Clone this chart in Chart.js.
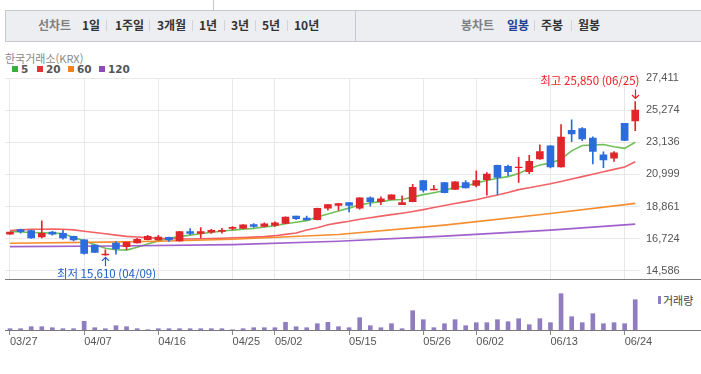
<!DOCTYPE html>
<html lang="ko">
<head>
<meta charset="utf-8">
<script src="https://cdn.jsdelivr.net/npm/chart.js@4.4.1/dist/chart.umd.min.js"></script>
<style>
  body { margin: 0; background: #fff; font-family: "Noto Sans CJK KR", "Noto Sans", sans-serif; }
  #wrap { position: relative; width: 701px; height: 374px; overflow: hidden; }
  .abs { position: absolute; white-space: nowrap; }
  #tabs { position: absolute; left: 5px; top: 10px; width: 696px; height: 30px; background: #eceef2;
          border-top: 1px solid #c5c8ce; border-bottom: 1px solid #c5c8ce; border-left: 1px solid #c5c8ce; }
  .tab { position: absolute; top: 17px; font-size: 12px; line-height: 16px; font-weight: bold; color: #333; }
  .tab.lbl { color: #808080; }
  .tab.on { color: #1d3f95; }
  .sep { position: absolute; top: 20px; width: 1px; height: 11px; background: #d2d4d9; }
  .sq { position: absolute; top: 66px; width: 6px; height: 6px; }
  .lg { position: absolute; top: 62px; font: bold 10.5px/14px "DejaVu Sans", sans-serif; color: #555; }
  canvas { position: absolute; left: 0; }
</style>
</head>
<body>
<div id="wrap">
  <div class="abs" style="left:213px;top:0;width:1px;height:10px;background:#c8c8c8"></div>
  <div id="tabs"></div>
  <div class="abs" style="left:355px;top:10px;width:1px;height:31px;background:#c5c8ce"></div>

  <span class="tab lbl" style="left:38px">선차트</span>
  <span class="tab" style="left:82px">1일</span><span class="sep" style="left:106px"></span>
  <span class="tab" style="left:115px">1주일</span><span class="sep" style="left:149px"></span>
  <span class="tab" style="left:157px">3개월</span><span class="sep" style="left:192px"></span>
  <span class="tab" style="left:199px">1년</span><span class="sep" style="left:224px"></span>
  <span class="tab" style="left:231px">3년</span><span class="sep" style="left:255px"></span>
  <span class="tab" style="left:262px">5년</span><span class="sep" style="left:287px"></span>
  <span class="tab" style="left:294px">10년</span>

  <span class="tab lbl" style="left:461px">봉차트</span>
  <span class="tab on" style="left:507px">일봉</span><span class="sep" style="left:534px"></span>
  <span class="tab" style="left:541px">주봉</span><span class="sep" style="left:571px"></span>
  <span class="tab" style="left:578px">월봉</span>

  <span class="abs" style="left:5px;top:51px;font-size:11px;line-height:14px;color:#888">한국거래소(KRX)</span>
  <span class="sq" style="left:12px;background:#3cae3c"></span><span class="lg" style="left:21px">5</span>
  <span class="sq" style="left:37px;background:#e23434"></span><span class="lg" style="left:46px">20</span>
  <span class="sq" style="left:68px;background:#f5821f"></span><span class="lg" style="left:77px">60</span>
  <span class="sq" style="left:99px;background:#8e4bc0"></span><span class="lg" style="left:108px">120</span>

  <span class="abs" style="left:658px;top:296px;width:3px;height:8px;background:#8f7dc0"></span>
  <span class="abs" style="left:663px;top:293px;font-size:11px;line-height:14px;color:#444">거래량</span>

  <canvas id="price" width="701" height="236" style="top:56px"></canvas>
  <canvas id="vol" width="701" height="70" style="top:286px"></canvas>
</div>
<script>
const dates = [
  "03/27", "03/28", "03/31", "04/01", "04/02", "04/03", "04/04", "04/07", "04/08", "04/09",
  "04/10", "04/11", "04/14", "04/15", "04/16", "04/17", "04/18", "04/21", "04/22", "04/23",
  "04/24", "04/25", "04/28", "04/29", "04/30", "05/02", "05/07", "05/08", "05/09", "05/12",
  "05/13", "05/14", "05/15", "05/16", "05/19", "05/20", "05/21", "05/22", "05/23", "05/26",
  "05/27", "05/28", "05/29", "05/30", "06/02", "06/04", "06/05", "06/09", "06/10", "06/11",
  "06/12", "06/13", "06/16", "06/17", "06/18", "06/19", "06/20", "06/23", "06/24", "06/25",
];

const opens = [
  17020, 17320, 17260, 16830, 17150, 17070, 16870, 16640, 16300, 15640,
  16430, 16190, 16440, 16660, 16630, 16810, 16570, 17190, 17070, 17150,
  17210, 17400, 17400, 17660, 17530, 17600, 17730, 18220, 18090, 17980,
  18750, 18930, 19120, 18750, 19440, 19180, 19330, 18990, 19180, 20590,
  19970, 20460, 20000, 20460, 20270, 20640, 21600, 21530, 21440, 21170,
  22020, 22900, 21490, 23930, 24050, 23410, 22300, 22080, 24390, 24550,
];
const highs = [
  17160, 17350, 17290, 17900, 17210, 17280, 16890, 16660, 16310, 15980,
  16530, 16500, 16750, 16940, 16940, 16830, 17210, 17390, 17450, 17340,
  17400, 17530, 17650, 17730, 17770, 17840, 18170, 18230, 18220, 18750,
  19000, 19070, 19130, 19450, 19500, 19500, 19640, 19570, 20340, 20600,
  20270, 20470, 20520, 20590, 21230, 21120, 21610, 21620, 22130, 22260,
  22960, 22910, 24310, 24630, 24120, 23500, 22500, 22520, 24400, 25850,
];
const lows = [
  17010, 17090, 16740, 16770, 16960, 16680, 16570, 15680, 15780, 15610,
  15680, 16000, 16420, 16640, 16620, 16530, 16560, 16980, 16770, 17070,
  17090, 17320, 17400, 17470, 17500, 17530, 17710, 17980, 17950, 17970,
  18620, 18620, 18500, 18690, 18880, 18990, 19320, 18980, 19170, 19820,
  19960, 19760, 19990, 20090, 20160, 19610, 19670, 20910, 20460, 21040,
  22000, 21430, 21480, 23180, 23240, 21700, 21450, 21860, 23240, 23910,
];
const closes = [
  17150, 17190, 16770, 17070, 17020, 16770, 16640, 15740, 15800, 15700,
  16040, 16490, 16680, 16870, 16830, 16640, 17190, 17070, 17190, 17280,
  17280, 17470, 17640, 17530, 17710, 17770, 18160, 18050, 17960, 18730,
  18990, 19050, 18930, 19440, 19180, 19370, 19630, 19120, 20140, 19950,
  20020, 19780, 20510, 20100, 20590, 21020, 20800, 21170, 21490, 21870,
  22510, 21490, 23480, 23690, 23350, 22530, 21960, 22430, 23260, 25270,
];

// volume (relative units)
const volumes = [
  13, 13, 33, 33, 23, 13, 13, 87, 23, 13,
  43, 33, 13, 3, 13, 13, 13, 13, 13, 13,
  13, 3, 13, 23, 23, 23, 77, 33, 23, 63,
  77, 33, 23, 123, 43, 23, 63, 13, 193, 103,
  23, 63, 103, 43, 73, 73, 103, 83, 113, 53,
  113, 73, 363, 133, 73, 163, 63, 73, 63, 303,
];

const ma5 = [
  17195, 17163, 17131, 17112, 17086, 17067, 16791, 16573, 16317, 16086,
  15977, 15958, 16150, 16362, 16573, 16746, 16855, 16958, 17048, 17150,
  17214, 17291, 17342, 17406, 17496, 17580, 17708, 17817, 17919, 18156,
  18368, 18560, 18752, 18970, 19098, 19182, 19291, 19330, 19483, 19650,
  19778, 19919, 20142, 20207, 20418, 20591, 20739, 20848, 21060, 21380,
  21617, 21746, 22021, 22560, 22918, 22944, 22983, 22834, 22726, 23136,
];
const ma20 = [
  17259, 17304, 17342, 17342, 17355, 17342, 17304, 17214, 17131, 17048,
  16958, 16875, 16830, 16791, 16746, 16727, 16701, 16701, 16714, 16727,
  16746, 16778, 16797, 16823, 16855, 16919, 17003, 17099, 17291, 17451,
  17643, 17772, 17881, 18009, 18112, 18221, 18317, 18413, 18522, 18650,
  18798, 18926, 19054, 19183, 19311, 19471, 19631, 19791, 19983, 20112,
  20240, 20368, 20528, 20689, 20849, 21009, 21169, 21330, 21490, 21840,
];
const ma60Idx = [0, 9, 14, 21, 31, 41, 51, 59];
const ma60 = [16410, 16490, 16550, 16680, 17000, 17620, 18390, 19070];
const ma120Idx = [0, 10, 21, 31, 41, 51, 59];
const ma120 = [16190, 16230, 16320, 16550, 16890, 17290, 17690];

const priceTicks = [14586, 16724, 18861, 20999, 23136, 25274, 27411];
const dateTicks = [0, 7, 14, 21, 25, 32, 39, 44, 51, 58];

const UP = "#e0262b";
const DOWN = "#2c6cdc";
const idx = dates.map((d, i) => i);
const candleColor = idx.map((i) => (closes[i] >= opens[i] ? UP : DOWN));

const lineSet = (label, xs, ys, color) => ({
  type: "line",
  label,
  data: xs.map((x, k) => ({ x, y: ys[k] })),
  borderColor: color,
  borderWidth: 1.6,
  pointRadius: 0,
  tension: 0,
  order: 1,
});

// line under each chart, running to the right edge
const baseLine = {
  id: "baseLine",
  afterDraw(chart) {
    const { ctx, chartArea } = chart;
    const yy = Math.round(chartArea.bottom) + 0.5;
    ctx.save();
    ctx.strokeStyle = "#7a7a7a";
    ctx.lineWidth = 1;
    ctx.beginPath();
    ctx.moveTo(5, yy);
    ctx.lineTo(chart.width, yy);
    ctx.stroke();
    ctx.restore();
  },
};

const drawArrow = (ctx, x, from, to) => {
  const dir = to > from ? 1 : -1;
  ctx.beginPath();
  ctx.moveTo(x, from);
  ctx.lineTo(x, to);
  ctx.moveTo(x - 3.5, to - dir * 3.5);
  ctx.lineTo(x, to);
  ctx.lineTo(x + 3.5, to - dir * 3.5);
  ctx.stroke();
};

// 최고 / 최저 표시
const marks = {
  id: "marks",
  afterDatasetsDraw(chart) {
    const { ctx } = chart;
    const { x, y } = chart.scales;
    const hi = highs.indexOf(Math.max(...highs));
    const lo = lows.indexOf(Math.min(...lows));
    ctx.save();
    ctx.font = '11.5px "Noto Sans CJK KR"';
    ctx.textBaseline = "middle";
    ctx.lineWidth = 1.2;

    let px = Math.round(x.getPixelForValue(hi)) + 0.5;
    let py = y.getPixelForValue(highs[hi]);
    ctx.fillStyle = ctx.strokeStyle = "#ee1c25";
    ctx.textAlign = "right";
    ctx.fillText(`최고 ${highs[hi].toLocaleString("en-US")} (${dates[hi]})`, px + 4, py - 21);
    drawArrow(ctx, px, py - 12, py - 3);

    px = Math.round(x.getPixelForValue(lo)) + 0.5;
    py = y.getPixelForValue(lows[lo]);
    ctx.fillStyle = ctx.strokeStyle = "#1f5fcf";
    ctx.textAlign = "center";
    ctx.fillText(`최저 ${lows[lo].toLocaleString("en-US")} (${dates[lo]})`, px + 1, py + 18);
    drawArrow(ctx, px, py + 11, py + 2);
    ctx.restore();
  },
};

const xScale = (extra) => ({
  type: "linear",
  min: -0.47,
  max: 59.45,
  offset: false,
  afterBuildTicks: (s) => {
    s.ticks = dateTicks.map((v) => ({ value: v }));
  },
  ...extra,
});

new Chart(document.getElementById("price"), {
  type: "bar",
  data: {
    datasets: [
      {
        label: "wick",
        data: idx.map((i) => ({ x: i, y: [lows[i], highs[i]] })),
        backgroundColor: candleColor,
        barThickness: 1,
        grouped: false,
        order: 0,
      },
      {
        label: "body",
        data: idx.map((i) => ({ x: i, y: [opens[i], closes[i]] })),
        backgroundColor: candleColor,
        barThickness: 7,
        grouped: false,
        order: 0,
      },
      lineSet("120", ma120Idx, ma120, "rgba(150,80,200,0.9)"),
      lineSet("60", ma60Idx, ma60, "rgba(245,135,35,0.95)"),
      lineSet("20", idx, ma20, "rgba(240,80,85,0.9)"),
      lineSet("5", idx, ma5, "rgba(95,185,70,0.9)"),
    ],
  },
  options: {
    responsive: false,
    animation: false,
    devicePixelRatio: 1,
    layout: { padding: { left: 5, top: 22, right: 0, bottom: 5 } },
    plugins: { legend: { display: false }, tooltip: { enabled: false } },
    scales: {
      x: xScale({
        afterFit: (s) => {
          s.height = 0;
        },
        ticks: { display: false },
        grid: { color: "#e8e8e8", drawTicks: false, offset: false },
        border: { display: false },
      }),
      y: {
        position: "right",
        min: 14009,
        max: 27411,
        beginAtZero: false,
        afterBuildTicks: (s) => {
          s.ticks = priceTicks.map((v) => ({ value: v }));
        },
        afterFit: (s) => {
          s.width = 61;
        },
        ticks: {
          color: "#555",
          padding: 6,
          font: { size: 11, family: "Liberation Sans" },
          callback: (v) => v.toLocaleString("en-US"),
        },
        grid: { color: "#e8e8e8", drawTicks: false },
        border: { display: false },
      },
    },
  },
  plugins: [baseLine, marks],
});

new Chart(document.getElementById("vol"), {
  type: "bar",
  data: {
    datasets: [
      {
        label: "거래량",
        data: idx.map((i) => ({ x: i, y: volumes[i] })),
        backgroundColor: "#8f7dc0",
        barThickness: 4,
        grouped: false,
      },
    ],
  },
  options: {
    responsive: false,
    animation: false,
    devicePixelRatio: 1,
    layout: { padding: { left: 5, top: 4, right: 61, bottom: 0 } },
    plugins: { legend: { display: false }, tooltip: { enabled: false } },
    scales: {
      x: xScale({
        afterFit: (s) => {
          s.height = 26;
        },
        ticks: {
          color: "#555",
          padding: 0,
          align: "start",
          maxRotation: 0,
          font: { size: 11, family: "Liberation Sans" },
          callback: (v) => dates[v],
        },
        grid: { drawOnChartArea: false, drawTicks: true, tickLength: 5, color: "#888", offset: false },
        border: { display: false },
      }),
      y: { display: false, min: 0, max: 400 },
    },
  },
  plugins: [baseLine],
});
</script>
</body>
</html>
